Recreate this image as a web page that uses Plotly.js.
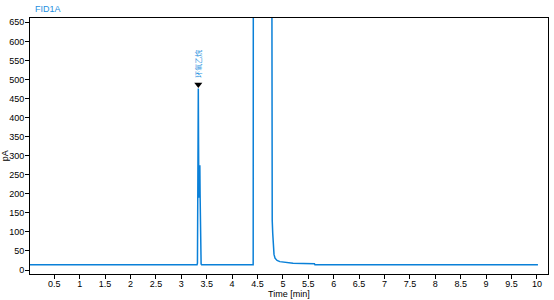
<!DOCTYPE html>
<html>
<head>
<meta charset="utf-8">
<script src="https://cdn.plot.ly/plotly-3.0.1.min.js"></script>
<style>html,body{margin:0;padding:0;background:#fff;}#chart{width:554px;height:300px;}</style>
</head>
<body>
<div id="chart"></div>
<script>
// Chromatogram signal (time in min, signal in pA)
const timeMin = [0.0, 3.31, 3.318, 3.325, 3.33, 3.335, 3.34, 3.345, 3.35, 3.358, 3.365, 3.37, 3.375, 3.38, 3.39, 3.40,
  4.415, 4.42, 4.43, 4.6, 4.775, 4.78, 4.79, 4.80, 4.81, 4.825, 4.845, 4.885, 4.94, 5.04, 5.2, 5.4, 5.62, 5.63, 10.02];
const signalPA = [14, 14, 18, 200, 420, 476, 330, 200, 190, 260, 275, 200, 80, 40, 16, 14,
  14, 1500, 3000, 3000, 1500, 183, 130, 96, 60, 41, 31, 25, 22, 20, 17.6, 17, 16.5, 14, 14];
const peakTime = [3.335];
const peakMarkY = [487];
const peakLabel = ["环氧乙烷"];
const xTicks = [0.5,1,1.5,2,2.5,3,3.5,4,4.5,5,5.5,6,6.5,7,7.5,8,8.5,9,9.5,10];
const yTicks = [0,50,100,150,200,250,300,350,400,450,500,550,600,650];

const lineColor = '#0a80d8';
const fnt = {family: 'Liberation Sans, Arial, sans-serif', size: 9, color: '#000'};

const traces = [
  {x: timeMin, y: signalPA, type: 'scatter', mode: 'lines',
   line: {color: lineColor, width: 1.5}, hoverinfo: 'skip'},
  {x: peakTime, y: peakMarkY, type: 'scatter', mode: 'markers',
   marker: {symbol: 'triangle-down', size: 7, color: '#000'}, hoverinfo: 'skip'}
];

const layout = {
  width: 554, height: 300,
  margin: {l: 30, r: 6, t: 18, b: 26},
  paper_bgcolor: '#fff', plot_bgcolor: '#fff',
  showlegend: false,
  font: fnt,
  xaxis: {
    range: [0.022, 10.218], tickvals: xTicks, ticktext: xTicks.map(String),
    showgrid: false, zeroline: false, showline: true, linecolor: '#000', linewidth: 1, mirror: true,
    ticks: 'outside', ticklen: 4, tickcolor: '#000', tickfont: fnt, ticklabelstandoff: -3
  },
  yaxis: {
    range: [-10.5, 661.3], tickvals: yTicks, ticktext: yTicks.map(String),
    showgrid: false, zeroline: false, showline: true, linecolor: '#000', linewidth: 1, mirror: true,
    ticks: 'outside', ticklen: 4, tickcolor: '#000', tickfont: fnt, ticklabelstandoff: -1
  },
  annotations: [
    {text: 'FID1A', xref: 'paper', yref: 'paper', x: 0.005, y: 1, xanchor: 'left', yanchor: 'bottom',
     yshift: 2, showarrow: false, font: {family: fnt.family, size: 9, color: '#1e8fe0'}},
    {text: 'pA', xref: 'paper', yref: 'paper', x: 0, xshift: -25, y: 0.46, textangle: -90,
     xanchor: 'center', yanchor: 'middle', showarrow: false, font: fnt},
    {text: 'Time [min]', xref: 'paper', yref: 'paper', x: 0.5, y: 0, yshift: -20, xanchor: 'center', yanchor: 'middle',
     showarrow: false, font: fnt},
    {text: peakLabel[0], x: peakTime[0], y: 542, xref: 'x', yref: 'y', textangle: -90,
     showarrow: false, font: {family: 'Noto Sans CJK SC, sans-serif', size: 7, color: '#1e8fe0'}}
  ]
};

Plotly.newPlot('chart', traces, layout, {staticPlot: true, displayModeBar: false});
</script>
</body>
</html>
